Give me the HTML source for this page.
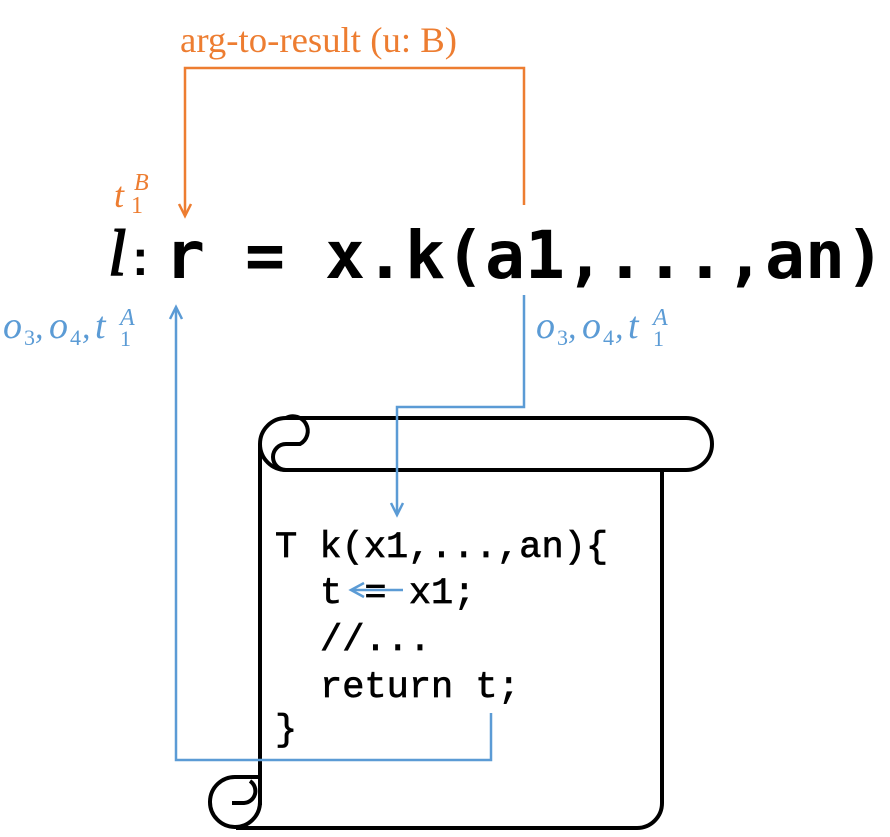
<!DOCTYPE html>
<html><head><meta charset="utf-8"><style>
html,body{margin:0;padding:0;background:#fff;}
svg{display:block}
</style></head><body>
<svg width="890" height="837" viewBox="0 0 890 837" xmlns="http://www.w3.org/2000/svg">
<!-- orange -->
<text x="180" y="52" font-family="Liberation Serif, serif" font-size="36" fill="#ED7D31" textLength="277" lengthAdjust="spacingAndGlyphs">arg-to-result (u: B)</text>
<path d="M524,205 V68 H185 V215" fill="none" stroke="#ED7D31" stroke-width="2.5"/>
<path d="M179,204 L185,216 L191,204" fill="none" stroke="#ED7D31" stroke-width="2.5"/>
<g font-family="Liberation Serif, serif" font-style="italic" fill="#ED7D31">
<text x="114" y="207" font-size="36">t</text>
<text x="134" y="190" font-size="24">B</text>
<text x="131" y="213" font-size="24" font-style="normal">1</text>
</g>
<!-- main line -->
<text x="108" y="275" font-family="Liberation Serif, serif" font-style="italic" font-size="66" fill="#000" stroke="#000" stroke-width="1.5">l</text>
<text x="132" y="275" font-family="Liberation Sans, sans-serif" font-weight="bold" font-size="50" fill="#000">:</text>
<text x="165" y="278" font-family="DejaVu Sans Mono, Liberation Mono, monospace" font-weight="bold" font-size="66" fill="#000" textLength="720" lengthAdjust="spacingAndGlyphs">r = x.k(a1,...,an)</text>
<!-- blue labels -->
<g font-family="Liberation Serif, serif" font-style="italic" fill="#5B9BD5">
<text x="3" y="338" font-size="38">o</text><text x="24" y="345" font-size="22" font-style="normal">3</text><text x="35" y="338" font-size="34">,</text><text x="49" y="338" font-size="38">o</text><text x="70" y="345" font-size="22" font-style="normal">4</text><text x="82" y="338" font-size="34">,</text><text x="95" y="338" font-size="38">t</text><text x="120" y="325" font-size="24">A</text><text x="120" y="346" font-size="22" font-style="normal">1</text>
</g>
<g font-family="Liberation Serif, serif" font-style="italic" fill="#5B9BD5" transform="translate(533,0)">
<text x="3" y="338" font-size="38">o</text><text x="24" y="345" font-size="22" font-style="normal">3</text><text x="35" y="338" font-size="34">,</text><text x="49" y="338" font-size="38">o</text><text x="70" y="345" font-size="22" font-style="normal">4</text><text x="82" y="338" font-size="34">,</text><text x="95" y="338" font-size="38">t</text><text x="120" y="325" font-size="24">A</text><text x="120" y="346" font-size="22" font-style="normal">1</text>
</g>
<!-- scroll -->
<g fill="none" stroke="#000" stroke-width="4">
<rect x="260" y="418" width="452" height="52" rx="26" fill="#fff"/>
<path d="M260,444 V805"/>
<path d="M286,470 H312"/>
<path d="M286,470 A13,13 0 0 1 286,444 H300 A13,13 0 0 0 286,418"/>
<path d="M662,470 V803 A25,25 0 0 1 637,828 H236"/>
<path d="M260,777 H236 A25,25 0 1 0 260,802 V777"/>
<path d="M232,803 H244 A12,12 0 0 0 250,781"/>
</g>
<!-- code -->
<g font-family="Liberation Mono, monospace" font-size="37" fill="#000" stroke="#000" stroke-width="0.7">
<text x="275" y="557">T k(x1,...,an){</text>
<text x="320" y="603">t = x1;</text>
<text x="320" y="650">//...</text>
<text x="320" y="697">return t;</text>
<text x="275" y="740">}</text>
</g>
<!-- blue connectors -->
<g fill="none" stroke="#5B9BD5" stroke-width="2.5">
<path d="M524,295 V407 H397 V515"/>
<path d="M391,503 L397,515 L403,503"/>
<path d="M491,713 V760 H176 V307"/>
<path d="M170,319 L176,307 L182,319"/>
<path d="M403,590 H352"/>
<path d="M364,583 L351,590 L364,597"/>
</g>
</svg>
</body></html>
